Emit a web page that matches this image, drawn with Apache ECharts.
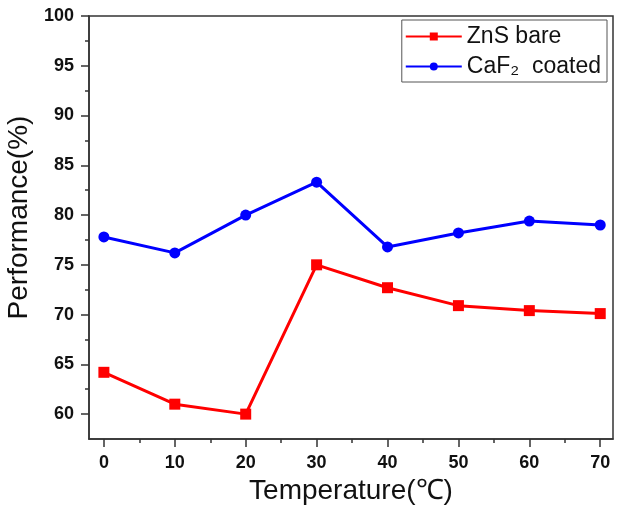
<!DOCTYPE html>
<html>
<head>
<meta charset="utf-8">
<script src="https://cdn.jsdelivr.net/npm/echarts@6/dist/echarts.min.js"></script>
<style>
  html, body { margin: 0; padding: 0; background: #fff; }
  #main { width: 623px; height: 507px; }
</style>
</head>
<body>
<div id="main"></div>
<script>
// temperature (℃)
const temps = [0, 10, 20, 30, 40, 50, 60, 70]
// performance (%)
const znsBare = [64.2, 61.0, 60.0, 75.0, 72.7, 70.9, 70.4, 70.1]
const caf2Coated = [77.8, 76.2, 80.0, 83.3, 76.8, 78.2, 79.4, 79.0]
// tick labels
const xTicks = [0, 10, 20, 30, 40, 50, 60, 70]
const xMinor = [5, 15, 25, 35, 45, 55, 65]
const yTicks = [60, 65, 70, 75, 80, 85, 90, 95, 100]
const yMinor = [62.5, 67.5, 72.5, 77.5, 82.5, 87.5, 92.5, 97.5]

const font = 'Liberation Sans, Arial, sans-serif'
const axisColor = '#333'

const chart = echarts.init(document.getElementById('main'))

function pairs(ys) {
  return temps.map((t, i) => [t, ys[i]])
}

const option = {
  animation: false,
  grid: {
    left: 89, right: 10, top: 16, bottom: 68,
    outerBoundsMode: 'none',
    show: true, borderColor: axisColor, borderWidth: 1.5,
    backgroundColor: 'transparent'
  },
  legend: {
    right: 16, top: 20,
    orient: 'vertical',
    itemWidth: 56, itemHeight: 10, itemGap: 7,
    padding: [5, 6, 4, 3],
    borderColor: '#555', borderWidth: 1,
    textStyle: { fontFamily: font, fontSize: 23, color: '#111' },
    data: ['ZnS bare', 'CaF₂  coated']
  },
  xAxis: [
    {
      type: 'value', min: -2.1, max: 71.8,
      name: 'Temperature(℃)', nameLocation: 'middle', nameGap: 35,
      nameTextStyle: { fontFamily: font, fontSize: 28, color: '#111' },
      axisLine: { onZero: false, lineStyle: { color: axisColor, width: 1.5 } },
      axisTick: { show: true, length: 8, inside: false, customValues: xTicks, lineStyle: { color: axisColor, width: 1.5 } },
      axisLabel: { customValues: xTicks, margin: 15, fontFamily: font, fontSize: 18, fontWeight: 'bold', color: '#111' },
      splitLine: { show: false }
    },
    {
      type: 'value', min: -2.1, max: 71.8, position: 'bottom',
      axisLine: { show: false, onZero: false },
      axisTick: { show: true, length: 4, customValues: xMinor, lineStyle: { color: axisColor, width: 1.5 } },
      axisLabel: { show: false },
      splitLine: { show: false }
    }
  ],
  yAxis: [
    {
      type: 'value', min: 57.5, max: 100,
      name: 'Performance(%)', nameLocation: 'middle', nameGap: 51,
      nameTextStyle: { fontFamily: font, fontSize: 28, color: '#111', padding: [0, 0, 0, 20] },
      axisLine: { show: true, onZero: false, lineStyle: { color: axisColor, width: 1.5 } },
      axisTick: { show: true, length: 8, customValues: yTicks, lineStyle: { color: axisColor, width: 1.5 } },
      axisLabel: { customValues: yTicks, margin: 15, fontFamily: font, fontSize: 18, fontWeight: 'bold', color: '#111' },
      splitLine: { show: false }
    },
    {
      type: 'value', min: 57.5, max: 100, position: 'left',
      axisLine: { show: false, onZero: false },
      axisTick: { show: true, length: 4, customValues: yMinor, lineStyle: { color: axisColor, width: 1.5 } },
      axisLabel: { show: false },
      splitLine: { show: false }
    }
  ],
  series: [
    {
      name: 'ZnS bare', type: 'line',
      data: pairs(znsBare),
      symbol: 'rect', symbolSize: 11,
      itemStyle: { color: '#ff0000' },
      lineStyle: { color: '#ff0000', width: 3 }
    },
    {
      name: 'CaF₂  coated', type: 'line',
      data: pairs(caf2Coated),
      symbol: 'circle', symbolSize: 11,
      itemStyle: { color: '#0000ff' },
      lineStyle: { color: '#0000ff', width: 3 }
    }
  ]
}

chart.setOption(option)
</script>
</body>
</html>
